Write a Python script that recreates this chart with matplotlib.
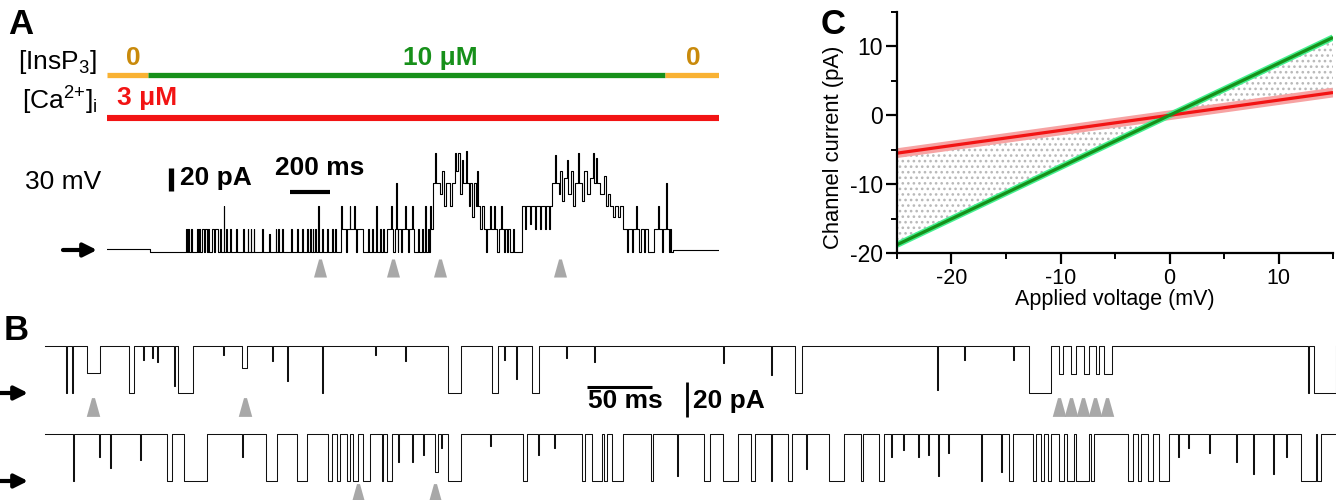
import numpy as np
import matplotlib
matplotlib.use("Agg")
import matplotlib.pyplot as plt

plt.rcParams['font.family'] = ['Liberation Sans', 'DejaVu Sans']
plt.rcParams['mathtext.fontset'] = 'custom'
plt.rcParams['mathtext.rm'] = 'Liberation Sans'
plt.rcParams['mathtext.it'] = 'Liberation Sans:italic'
plt.rcParams['mathtext.bf'] = 'Liberation Sans:bold'
plt.rcParams['axes.unicode_minus'] = False
plt.rcParams['hatch.linewidth'] = 1.1

# ---------------- data ----------------
# Panel A: solution protocol (ms) and the recorded trace (open-channel level)
record_a_ms = 3060
insp3_edges_ms = [0, 205, 2790, 3060]
insp3_labels = ['0', '10 μM', '0']
ca_edges_ms = [0, 3060]
ca_label = '3 μM'
unit_a_pA = 20.0

trace_a_time = [
    0, 215, 395, 398.5, 405, 408.5, 420, 423.5, 450, 454, 459, 462.5,
    475, 485, 487.5, 497.5, 505, 509, 525, 535, 537.5, 555, 565, 567.5,
    582.5, 586.5, 595, 599, 615, 619, 645, 648.5, 680, 683.5, 702.5, 706,
    717.5, 721.5, 732.5, 736, 775, 778.5, 810, 813, 842.5, 846, 855, 858.5,
    875, 878.5, 920, 923.5, 950, 953.5, 975, 978.5, 1000, 1003.5, 1015, 1018.5,
    1027.5, 1031, 1040, 1043.5, 1055, 1058.5, 1075, 1078.5, 1100, 1103.5,
    1125, 1128.5, 1140, 1143.5,
    1170, 1175, 1195, 1200, 1212.5, 1216.5, 1235, 1238.5, 1245, 1250, 1280,
    1305, 1308.5, 1325, 1328.5, 1345, 1349, 1365, 1368.5, 1380, 1383.5,
    1400, 1420, 1424, 1430, 1440, 1445, 1448.5, 1452.5,
    1455, 1470, 1475, 1490, 1493.5, 1505, 1510, 1525, 1528.5, 1535,
    1555, 1558.5, 1575, 1578.5, 1590, 1594, 1605, 1608.5, 1615, 1619,
    1630, 1640, 1645, 1665, 1675, 1685, 1695, 1715, 1725, 1740, 1747.5, 1755,
    1765, 1775, 1780, 1795, 1800, 1810, 1815, 1825, 1835, 1845, 1850, 1855,
    1865, 1875, 1885, 1895, 1900, 1915, 1920, 1935, 1940, 1950, 1960, 1970,
    1975, 1985, 1990, 2000, 2005, 2015, 2030, 2033.5,
    2075, 2090, 2095, 2115, 2120, 2140, 2145, 2165, 2170, 2190, 2195, 2210, 2215,
    2225, 2240, 2245, 2260, 2265, 2275, 2285, 2300, 2305, 2320, 2330, 2340,
    2355, 2360, 2375, 2385, 2400, 2415, 2430, 2435, 2445, 2450, 2465, 2485,
    2495, 2505, 2515, 2530, 2540, 2555, 2565,
    2580, 2600, 2605, 2625, 2630, 2645, 2650, 2660, 2670, 2685, 2690, 2705,
    2735, 2755, 2760, 2775, 2780, 2795, 2799, 2810, 2815, 2820, 2830, 3060,
]
trace_a_level = [
    0.15, 0, 1, 0, 1, 0, 1, 0, 1, 0, 1, 0,
    1, 0, 1, 0, 1, 0, 1, 0, 1, 0, 1, 0,
    2, 0, 1, 0, 1, 0, 1, 0, 1, 0, 1, 0,
    1, 0, 1, 0, 1, 0, 0.8, 0, 1, 0, 1, 0,
    1, 0, 1, 0, 1, 0, 1, 0, 1, 0, 1, 0,
    1, 0, 1, 0, 2, 0, 1, 0, 1, 0,
    1, 0, 1, 0,
    2, 1, 0, 1, 2, 1, 2, 1, 0, 1, 0,
    1, 0, 1, 0, 2, 0, 1, 0, 1, 0,
    1, 2, 1, 0, 1, 3, 1, 0,
    1, 0, 1, 2, 1, 0, 1, 2, 1, 0,
    1, 0, 1, 0, 2, 0, 1, 0, 2, 1,
    3, 4.3, 3, 2.5, 3.5, 2, 3, 2, 3, 4.3, 3.5, 4.3,
    2.5, 4, 3, 4.4, 3, 2, 3, 1.5, 3, 2, 3.5, 2,
    1, 2, 1, 0, 1, 2, 1, 2, 1, 0, 1, 2,
    1, 0, 1, 0, 1, 0, 1, 0,
    2, 1, 2, 1.2, 2, 1, 2, 1, 2, 1, 2, 1, 2,
    3, 4.2, 3, 2.5, 3.5, 2.2, 3.2, 4, 2.5, 3.5, 2, 3,
    4.3, 3, 2.2, 3.5, 2.5, 3.2, 4.3, 3, 4.1, 3, 2.5, 3.3,
    2, 2.5, 2, 1.5, 2, 1.5, 2,
    1, 0, 1, 0, 1, 2, 1, 0, 1, 0, 1, 0,
    1, 2, 1, 0, 1, 3, 1, 0, 1, 0, 0.1, 0.1,
]
arrowheads_a_ms = [1065, 1430, 1665, 2265]

# Panel B: two consecutive 1-s sweeps; closures listed as start, end (ms) and depth
unit_b_pA = 27.0
sweep_b_start_ms = 8.0
sweep_b_end_ms = 1000.0

row1_start = [23.8, 28.5, 40.0, 72.3, 83.1, 90.0, 93.8, 107.0, 110.0, 144.6,
              159.0, 182.3, 193.8, 220.8, 261.5, 284.6, 317.7, 351.5, 360.8, 370.0,
              382.3, 408.5, 430.0, 529.0, 566.0, 583.8, 693.0, 713.8, 751.5, 763.8,
              786.9, 796.2, 806.2, 815.4, 821.5, 978.5, 983.0]
row1_end = [24.6, 29.3, 50.0, 76.2, 83.9, 90.8, 94.6, 107.8, 121.5, 145.4,
            163.0, 183.1, 194.6, 221.6, 262.3, 285.4, 327.7, 356.2, 361.6, 370.8,
            387.7, 409.3, 430.8, 529.8, 566.8, 589.2, 693.8, 714.6, 752.3, 780.8,
            790.0, 800.0, 810.0, 817.7, 827.7, 979.3, 1000.0]
row1_depth = [1, 1, 0.58, 1, 0.3, 0.25, 0.35, 0.85, 1, 0.2,
              0.48, 0.33, 0.75, 1, 0.2, 0.33, 1, 1, 0.3, 0.7,
              1, 0.25, 0.35, 0.37, 0.63, 1, 0.93, 0.3, 0.3, 1,
              0.6, 0.6, 0.6, 0.6, 0.6, 1, 1]

row2_start = [29.2, 49.2, 57.7, 80.8, 101.5, 114.6, 159.2, 177.7, 201.5, 225.4,
              232.3, 240.0, 244.6, 252.3, 266.9, 270.8, 279.2, 290.0, 298.5, 307.7,
              312.3, 317.7, 350.0, 375.4, 386.9, 399.2, 420.8, 428.5, 437.0, 443.8,
              473.8, 493.8, 514.6, 528.5, 550.0, 565.4, 578.5, 592.3, 610.0, 634.6,
              648.5, 657.7, 666.9, 678.5, 686.2, 693.8, 701.5, 726.9, 742.3, 748.5,
              766.9, 773.1, 778.5, 786.9, 793.1, 800.0, 811.5, 840.0, 847.7, 855.4,
              863.8, 878.5, 886.2, 902.3, 923.0, 936.0, 951.5, 961.5, 973.0, 985.5]
row2_end = [30.0, 50.0, 58.5, 81.6, 105.4, 132.3, 160.0, 186.2, 209.2, 228.5,
            234.6, 242.3, 248.5, 257.7, 267.7, 274.6, 280.0, 290.8, 299.3, 310.0,
            313.1, 327.7, 350.8, 378.5, 387.7, 400.0, 423.1, 436.2, 440.0, 452.3,
            475.4, 494.6, 519.2, 540.0, 553.8, 566.2, 581.5, 593.1, 621.5, 636.2,
            652.3, 658.5, 667.7, 679.3, 687.0, 694.6, 702.3, 727.7, 743.1, 751.5,
            769.2, 775.4, 780.8, 790.8, 798.5, 810.0, 813.8, 843.8, 850.0, 859.2,
            871.5, 879.3, 887.0, 903.1, 923.8, 936.8, 952.3, 962.3, 984.5, 988.5]
row2_depth = [1, 0.5, 0.72, 0.55, 1, 1, 0.5, 1, 1, 1,
              1, 1, 1, 1, 1, 1, 0.6, 0.6, 0.45, 0.8,
              0.3, 1, 0.25, 1, 0.45, 0.3, 1, 1, 1, 1,
              1, 0.9, 1, 1, 1, 1, 1, 0.75, 1, 1,
              1, 0.5, 0.35, 0.5, 0.45, 0.9, 0.4, 1, 0.8, 1,
              1, 1, 1, 1, 1, 1, 1, 1, 1, 1,
              1, 0.5, 0.3, 0.4, 0.6, 0.85, 0.85, 0.5, 1, 1]
arrowheads_row1_ms = [44.6, 161.5, 787.0, 796.5, 805.6, 814.9, 824.0]
arrowheads_row2_ms = [248.5, 307.7]

# Panel C: current-voltage relations
iv_voltage_mV = [-25, 0, 15]
iv_red_pA = [-5.5, 0.0, 3.3]
iv_green_pA = [-18.8, 0.0, 11.3]

# ---------------- layout helpers ----------------
W, H = 1336, 500
fig = plt.figure(figsize=(W / 100, H / 100), dpi=100)


def fx(x):
    return x / W


def fy(y):
    return 1 - y / H


def box(left, top, right, bottom):
    return [fx(left), fy(bottom), (right - left) / W, (bottom - top) / H]


TRI = [(-0.36, -0.5), (0.36, -0.5), (0.08, 0.5), (-0.08, 0.5)]
GREY = '#a8a8a8'
ORANGE = '#f9b233'
ORANGE_TXT = '#c98a0b'
GREEN = '#17901a'
RED = '#f21414'
BIG = 19


def closure_trace(starts, ends, depths, t0, t1, unit):
    t = [t0]
    y = [unit]
    for s, e, d in sorted(zip(starts, ends, depths)):
        t += [s, e]
        y += [unit * (1 - d), unit]
    if t[-1] < t1:
        t.append(t1)
        y.append(y[-1])
    return np.array(t), np.array(y)


def arrow(x0, x1, y):
    fig.add_artist(matplotlib.patches.FancyArrowPatch(
        (fx(x0), fy(y)), (fx(x1), fy(y)), transform=fig.transFigure,
        arrowstyle='-|>', mutation_scale=20, lw=3.0, color='k',
        shrinkA=0, shrinkB=0))


# ---------------- panel A ----------------
fig.text(fx(8), fy(25), 'A', fontsize=25, fontweight='bold', ha='left', va='center')
fig.text(fx(97), fy(62), '[InsP$_3$]', fontsize=BIG, ha='right', va='center')
fig.text(fx(97), fy(101), '[Ca$^{2{+}}$]$_\\mathregular{i}$', fontsize=BIG,
         ha='right', va='center')

axp = fig.add_axes(box(107, 40, 719, 130))
axp.set_xlim(0, record_a_ms)
axp.set_ylim(0, 1)
axp.axis('off')
seg_colors = [ORANGE, GREEN, ORANGE]
txt_colors = [ORANGE_TXT, GREEN, ORANGE_TXT]
txt_x = [130, 1665, 2930]
for i, lab in enumerate(insp3_labels):
    axp.plot([insp3_edges_ms[i], insp3_edges_ms[i + 1]], [0.611, 0.611],
             color=seg_colors[i], lw=3.8, solid_capstyle='butt')
    axp.text(txt_x[i], 0.80, lab, color=txt_colors[i], fontsize=BIG,
             fontweight='bold', ha='center', va='center')
axp.plot(ca_edges_ms, [0.133, 0.133], color=RED, lw=4.4, solid_capstyle='butt')
axp.text(50, 0.35, ca_label, color=RED, fontsize=BIG, fontweight='bold',
         ha='left', va='center')

fig.text(fx(25), fy(182), '30 mV', fontsize=BIG, ha='left', va='center')

axa = fig.add_axes(box(107, 135, 719, 285))
axa.set_xlim(0, record_a_ms)
axa.set_ylim(-28.7, 101.7)
axa.axis('off')
axa.step(trace_a_time, np.array(trace_a_level) * unit_a_pA, where='post',
         color='k', lw=0.8)
# scale bars: 20 pA and 200 ms
axa.plot([317.5, 317.5], [53, 53 + 20], color='k', lw=3.8,
         solid_capstyle='butt', clip_on=False)
axa.text(365, 64, '20 pA', fontsize=BIG, fontweight='bold', ha='left', va='center')
axa.plot([915, 915 + 200], [52, 52], color='k', lw=3.0,
         solid_capstyle='butt', clip_on=False)
axa.text(1065, 73, '200 ms', fontsize=BIG, fontweight='bold', ha='center', va='center')
axa.plot(arrowheads_a_ms, [-14] * len(arrowheads_a_ms), ls='none',
         marker=TRI, ms=13, color=GREY, mec='none', clip_on=False)
arrow(63, 97, 250)

# ---------------- panel B ----------------
fig.text(fx(4), fy(331), 'B', fontsize=25, fontweight='bold', ha='left', va='center')
axb = fig.add_axes(box(35, 335, 1336, 500))
axb.set_xlim(0, sweep_b_end_ms)
axb.set_ylim(-61.1, 33.1)
axb.axis('off')
row2_offset = -50.3
t1, y1 = closure_trace(row1_start, row1_end, row1_depth,
                       sweep_b_start_ms, sweep_b_end_ms, unit_b_pA)
t2, y2 = closure_trace(row2_start, row2_end, row2_depth,
                       sweep_b_start_ms, sweep_b_end_ms, unit_b_pA)
axb.step(t1, y1, where='post', color='#111111', lw=0.75, clip_on=False)
axb.step(t2, y2 + row2_offset, where='post', color='#111111', lw=0.75, clip_on=False)
axb.plot(arrowheads_row1_ms, [-8] * len(arrowheads_row1_ms), ls='none',
         marker=TRI, ms=13.5, color=GREY, mec='none', clip_on=False)
axb.plot(arrowheads_row2_ms, [row2_offset - 7] * len(arrowheads_row2_ms), ls='none',
         marker=TRI, ms=13.5, color=GREY, mec='none', clip_on=False)
# scale bars: 50 ms and 20 pA
axb.plot([424.6, 424.6 + 50], [3.6, 3.6], color='k', lw=2.2,
         solid_capstyle='butt', clip_on=False)
axb.text(453.5, -4.6, '50 ms', fontsize=BIG, fontweight='bold', ha='center', va='center')
axb.plot([500.8, 500.8], [-13.7, -13.7 + 20], color='k', lw=2.0,
         solid_capstyle='butt', clip_on=False)
axb.text(505.8, -4.6, '20 pA', fontsize=BIG, fontweight='bold', ha='left', va='center')
arrow(0, 28, 393)
arrow(0, 28, 481)

# ---------------- panel C ----------------
fig.text(fx(821), fy(25), 'C', fontsize=25, fontweight='bold', ha='left', va='center')
axc = fig.add_axes(box(897, 12, 1333, 253))
axc.fill_between(iv_voltage_mV, iv_red_pA, iv_green_pA, facecolor='none',
                 edgecolor='#b9b9b9', hatch='...', linewidth=0)
axc.plot(iv_voltage_mV, iv_red_pA, color='#f7a3a3', lw=7, solid_capstyle='butt')
axc.plot(iv_voltage_mV, iv_green_pA, color='#45f08f', lw=4.5, solid_capstyle='butt')
axc.plot(iv_voltage_mV, iv_red_pA, color=RED, lw=2.3, solid_capstyle='butt')
axc.plot(iv_voltage_mV, iv_green_pA, color=GREEN, lw=2.3, solid_capstyle='butt')
axc.set_xlim(-25, 15)
axc.set_ylim(-20, 15)
axc.set_xticks([-20, -10, 0, 10])
axc.set_yticks([-20, -10, 0, 10])
axc.set_xticks([-25, -15, -5, 5, 15], minor=True)
axc.set_yticks([-15, -5, 5, 15], minor=True)
for s in ['top', 'right']:
    axc.spines[s].set_visible(False)
for s in ['left', 'bottom']:
    axc.spines[s].set_linewidth(1.6)
axc.tick_params(which='major', length=8, width=1.6, direction='out')
axc.tick_params(which='minor', length=4.5, width=1.4, direction='out')
axc.tick_params(axis='x', labelsize=15.5, pad=3)
axc.tick_params(axis='y', labelsize=16.5, pad=2)
axc.set_xlabel('Applied voltage (mV)', fontsize=15.5, labelpad=0)
axc.set_ylabel('Channel current (pA)', fontsize=15.8)
axc.yaxis.set_label_coords(-0.122, 0.44)

fig.savefig('out.png', dpi=100)
